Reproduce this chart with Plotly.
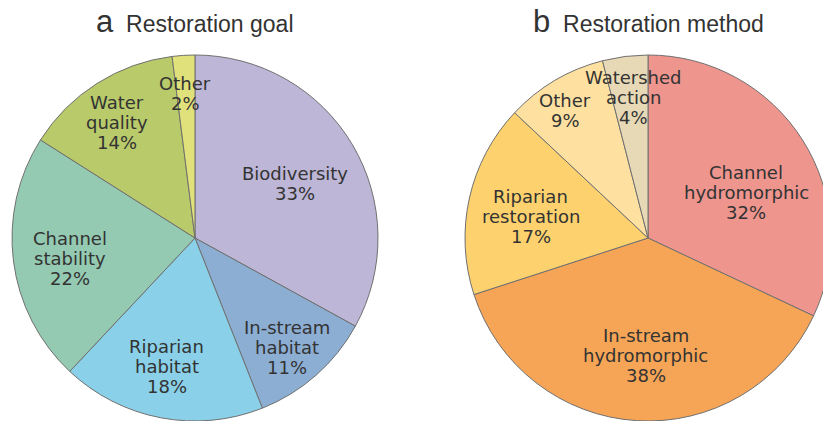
import math
import plotly.graph_objects as go

# ---- data ----
goal_labels = ["Biodiversity", "In-stream<br>habitat", "Riparian<br>habitat",
               "Channel<br>stability", "Water<br>quality", "Other"]
goal_values = [33, 11, 18, 22, 14, 2]

method_labels = ["Channel<br>hydromorphic", "In-stream<br>hydromorphic",
                 "Riparian<br>restoration", "Other", "Watershed<br>action"]
method_values = [32, 38, 17, 9, 4]

# ---- style ----
goal_colors = ["#BDB6D6", "#8CAED3", "#89D0E8", "#94CAB2", "#B8CA6A", "#E0E17A"]
method_colors = ["#EE958E", "#F6A556", "#FDD26E", "#FEE1A0", "#E7D9B6"]
goal_label_r = [0.62, 0.78, 0.72, 0.69, 0.76, 0.79]
goal_label_da = [2, 1.5, 1.5, -2, -1.5, -0.3]
method_label_r = [0.59, 0.64, 0.65, 0.83, 0.77]
method_label_da = [7.7, -2.6, -2.4, -2.4, 1.1]

W, H = 832, 421
R = 183
pies = [
    dict(labels=goal_labels, values=goal_values, colors=goal_colors,
         cx=195, cy=238, lr=goal_label_r, da=goal_label_da,
         title="Restoration goal", letter="a"),
    dict(labels=method_labels, values=method_values, colors=method_colors,
         cx=648, cy=238, lr=method_label_r, da=method_label_da,
         title="Restoration method", letter="b"),
]

TXT = "#333333"
fig = go.Figure()
annotations = []
for p in pies:
    cx, cy = p["cx"], p["cy"]
    fig.add_trace(go.Pie(
        labels=[l.replace("<br>", " ") for l in p["labels"]],
        values=p["values"],
        sort=False, direction="clockwise", rotation=0,
        marker=dict(colors=p["colors"], line=dict(color="#707070", width=1)),
        textinfo="none", hoverinfo="label+percent", showlegend=False,
        domain=dict(x=[(cx - R) / W, (cx + R) / W],
                    y=[1 - (cy + R) / H, 1 - (cy - R) / H]),
    ))
    total = sum(p["values"])
    cum = 0
    for lab, v, f, da in zip(p["labels"], p["values"], p["lr"], p["da"]):
        mid = (cum + v / 2) / total * 360 + da
        cum += v
        px = cx + f * R * math.sin(math.radians(mid))
        py = cy - f * R * math.cos(math.radians(mid))
        lines = lab.split("<br>") + [f"{round(v / total * 100)}%"]
        n = len(lines)
        for i, t in enumerate(lines):
            annotations.append(dict(
                x=px / W, y=1 - py / H, xref="paper", yref="paper",
                text=t, showarrow=False, xanchor="center", yanchor="middle",
                yshift=-(i - (n - 1) / 2) * 20,
                font=dict(family="DejaVu Sans", size=18, color=TXT),
            ))
    annotations.append(dict(
        x=cx / W, y=1 - 22 / H, xref="paper", yref="paper",
        text=f"<span style='font-size:31px'>{p['letter']}</span>\u00a0\u00a0{p['title']}",
        showarrow=False, xanchor="center", yanchor="middle",
        font=dict(family="Liberation Sans", size=23, color=TXT),
    ))

fig.update_layout(
    width=W, height=H, margin=dict(l=0, r=0, t=0, b=0),
    paper_bgcolor="white", plot_bgcolor="white",
    annotations=annotations,
)
fig.write_html("out.html", config={"displayModeBar": False},
               post_script="document.body.style.margin='0';document.body.style.overflow='hidden';document.documentElement.style.overflow='hidden';")
